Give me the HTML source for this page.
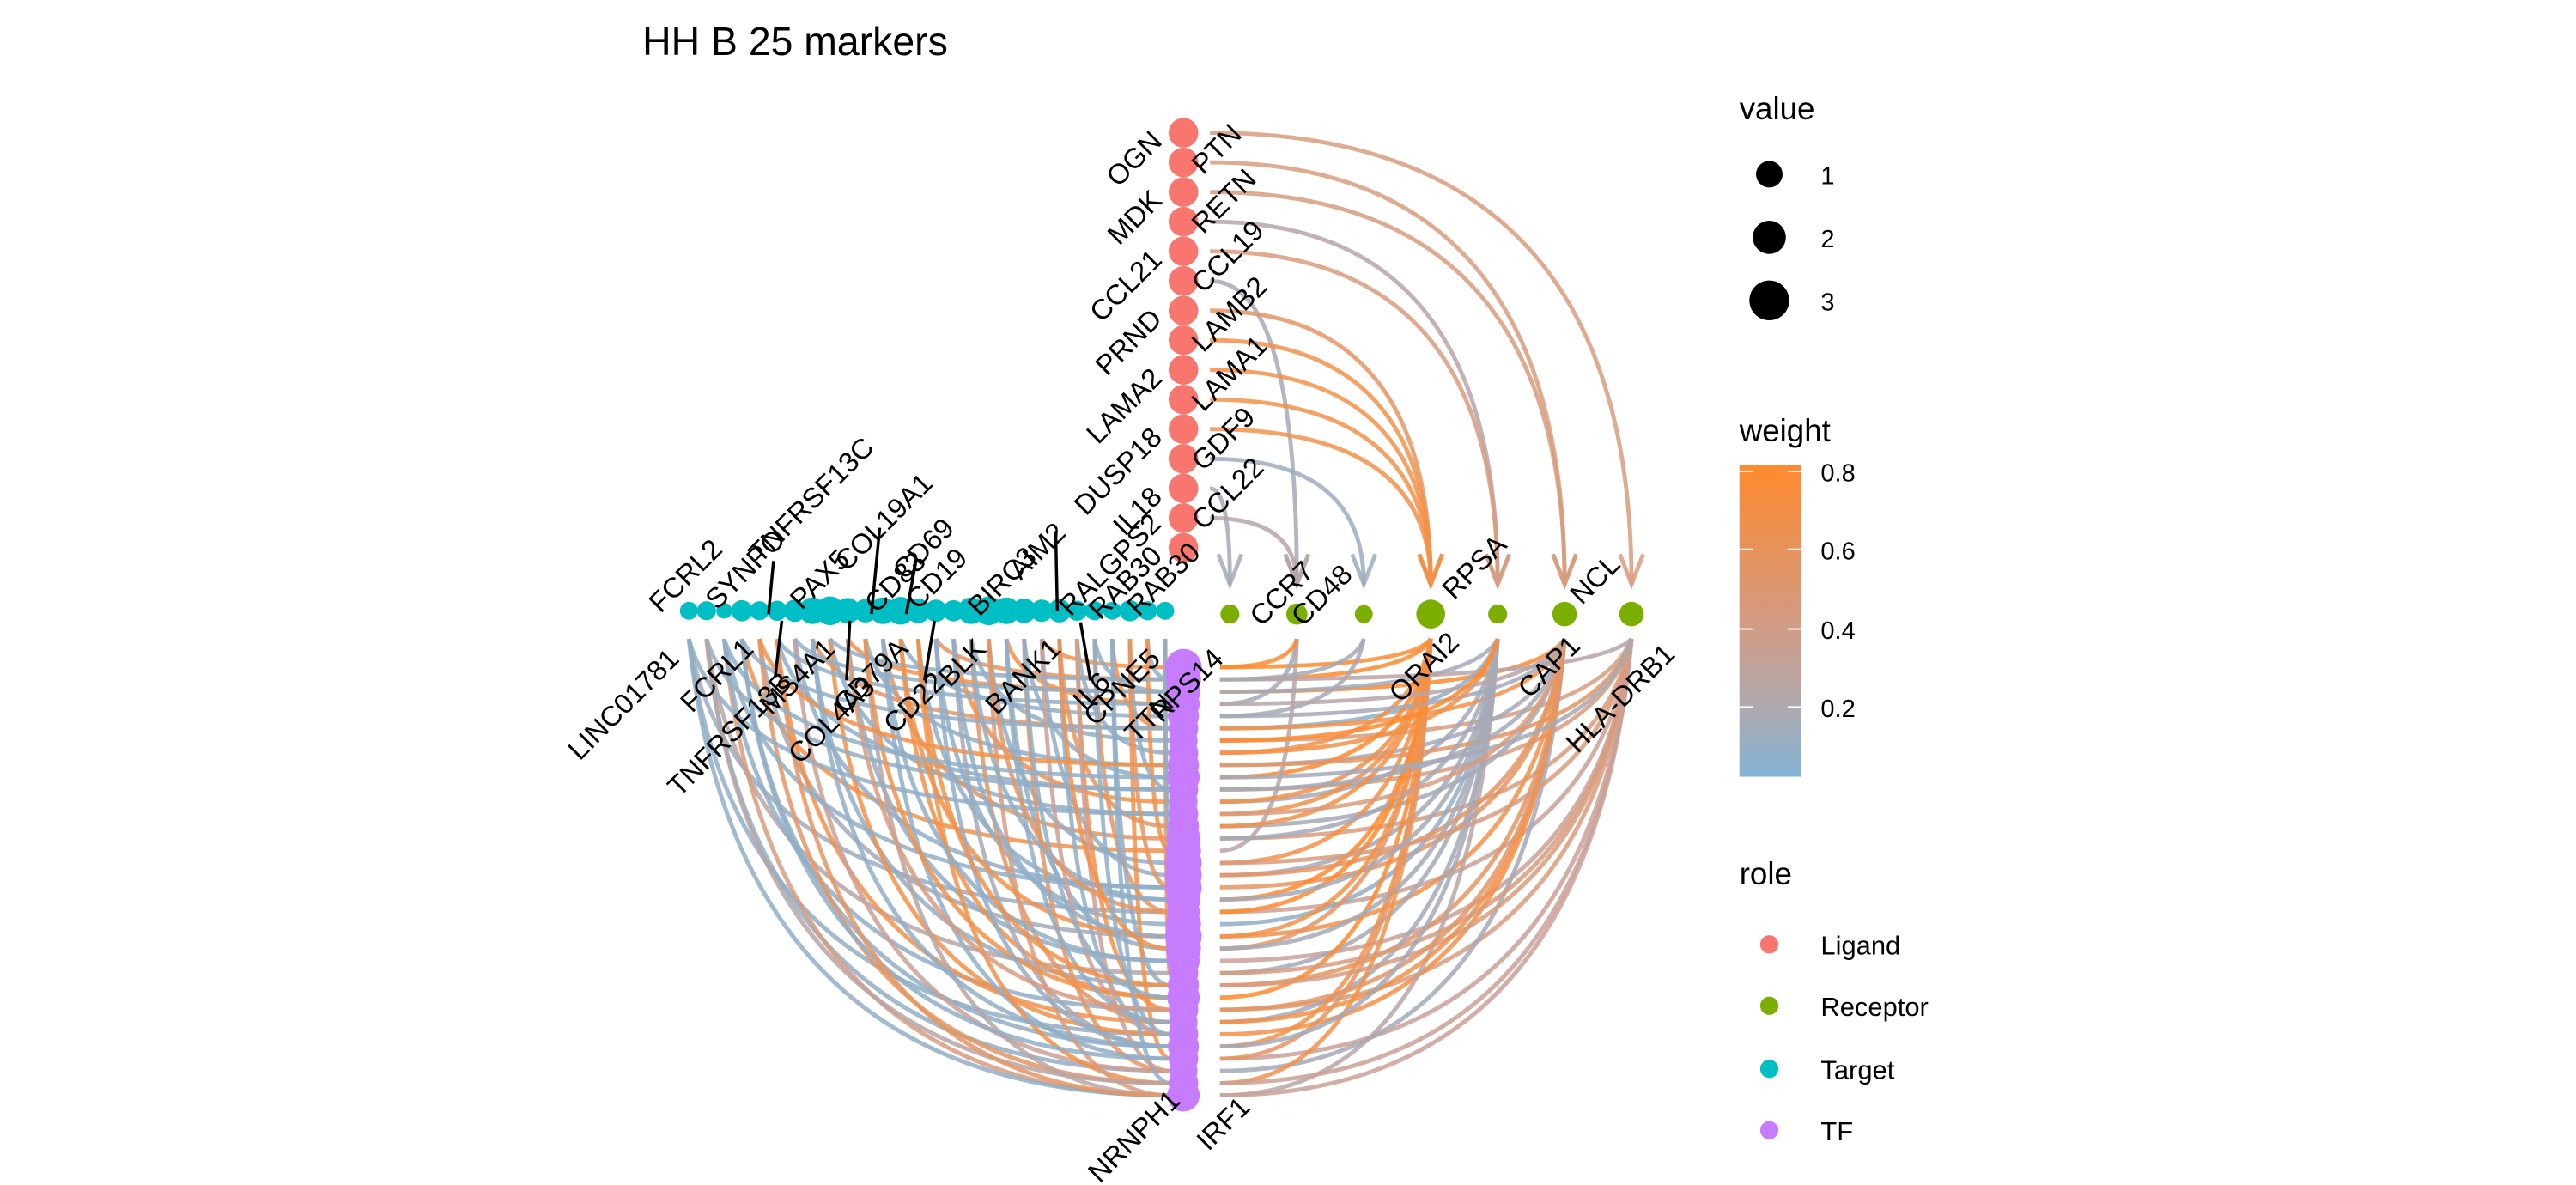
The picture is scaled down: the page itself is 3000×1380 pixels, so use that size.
<!DOCTYPE html>
<html><head><meta charset="utf-8"><style>
html,body{margin:0;padding:0;background:#fff;width:3000px;height:1380px;overflow:hidden;}
svg{display:block;overflow:hidden;font-family:"Liberation Sans",Arial,sans-serif;}
</style></head><body>
<svg id="chart" width="3000" height="1380" viewBox="0 0 1552 714" xmlns="http://www.w3.org/2000/svg">
<rect width="1552" height="714" fill="#fff"/>
<text x="387" y="33" font-size="24" fill="#000">HH B 25 markers</text>
<g id="edges"></g>
<g id="nodes"></g>
<g id="labels"></g>
<g>
<text x="1048" y="72" font-size="19">value</text>
<circle cx="1066" cy="105" r="8"/>
<circle cx="1066" cy="143" r="10"/>
<circle cx="1066" cy="181" r="12"/>
<text x="1097" y="111" font-size="15">1</text>
<text x="1097" y="149" font-size="15">2</text>
<text x="1097" y="187" font-size="15">3</text>
<text x="1048" y="266" font-size="19">weight</text>
<defs><linearGradient id="wg" x1="0" y1="0" x2="0" y2="1">
<stop offset="0" stop-color="#FF8A2E"/><stop offset="0.5" stop-color="#D39A82"/><stop offset="0.78" stop-color="#AFA9B0"/><stop offset="1" stop-color="#82B2D4"/></linearGradient></defs>
<rect x="1048" y="280" width="37" height="188" fill="url(#wg)"/>
<g stroke="#fff" stroke-width="1">
<line x1="1048" y1="284" x2="1056" y2="284"/><line x1="1077" y1="284" x2="1085" y2="284"/>
<line x1="1048" y1="331" x2="1056" y2="331"/><line x1="1077" y1="331" x2="1085" y2="331"/>
<line x1="1048" y1="379" x2="1056" y2="379"/><line x1="1077" y1="379" x2="1085" y2="379"/>
<line x1="1048" y1="426" x2="1056" y2="426"/><line x1="1077" y1="426" x2="1085" y2="426"/>
</g>
<text x="1097" y="290" font-size="15">0.8</text>
<text x="1097" y="337" font-size="15">0.6</text>
<text x="1097" y="385" font-size="15">0.4</text>
<text x="1097" y="432" font-size="15">0.2</text>
<text x="1048" y="533" font-size="19">role</text>
<circle cx="1066" cy="569" r="5.5" fill="#F8766D"/>
<circle cx="1066" cy="606" r="5.5" fill="#7CAE00"/>
<circle cx="1066" cy="644" r="5.5" fill="#00BFC4"/>
<circle cx="1066" cy="681" r="5.5" fill="#C77CFF"/>
<text x="1097" y="575" font-size="16">Ligand</text>
<text x="1097" y="612" font-size="16">Receptor</text>
<text x="1097" y="650" font-size="16">Target</text>
<text x="1097" y="687" font-size="16">TF</text>
</g>
</svg>
<script>
// ---- data ----
const ligands = ["OGN","PTN","MDK","RETN","CCL21","CCL19","PRND","LAMB2","LAMA2","LAMA1","DUSP18","GDF9","IL18","CCL22","RAB30"];
const ligandValues = [2,2,2,2,2,2,2,2,2,2,2,2,2,2,2];
const receptors = ["RPS14","CCR7","CD48","ORAI2","RPSA","CAP1","HLA-DRB1"];
const receptorValues = [1.2,1.6,1,3,1.2,2.2,2.2];
const targets = ["FCRL2","LINC01781","SYNPO","FCRL1","TNFRSF13C","TNFRSF13B","PAX5","MS4A1","COL19A1","CD83","COL4A3","CD69","CD79A","CD19","CD22","BLK","BIRC3","AIM2","BANK1","RALGPS2","IL6","CPNE5","RAB30b","TTNb","T25","T26","T27","T28"];
const targetValues = [1,1.2,0.6,1.6,1.2,1.4,1.8,2.6,3,2.4,2,2.6,2.8,2.2,1.8,1.6,2.6,3,2.6,2.2,1.8,2,1.4,1.2,1,1.6,1.2,1];
const tfCount = 36;
const tfValues = [3,2.8,2.6,2.4,2.2,2,1.8,2,2.2,2.4,2,1.8,2,2.2,2.6,2.8,3,3,3,2.6,2.4,2.8,3,2.8,2.4,2,2.2,2.4,2,1.8,2,2.2,2,1.8,2,2.4];
const leftEdges = [[0,30,.1],[0,20,.15],[1,33,.1],[1,25,.3],[2,35,.5],[2,28,.1],[3,15,.7],[3,31,.1],[4,22,.2],[4,34,.6],[5,10,.1],[5,29,.7],[6,18,.1],[6,33,.4],[7,5,.6],[7,26,.1],[8,12,.1],[8,30,.7],[9,2,.7],[9,24,.1],[10,8,.1],[10,35,.3],[11,14,.6],[11,32,.1],[12,4,.1],[12,27,.7],[13,19,.1],[13,34,.7],[14,1,.6],[14,21,.1],[15,11,.7],[15,31,.2],[16,6,.1],[16,29,.6],[17,16,.1],[17,35,.5],[18,3,.7],[18,23,.1],[19,9,.1],[19,33,.6],[20,0,.7],[20,17,.1],[21,13,.6],[21,30,.1],[22,7,.1],[22,28,.7],[23,2,.1],[23,20,.6],[24,5,.7],[24,26,.1],[25,10,.1],[25,32,.7],[26,1,.1],[26,15,.7],[27,3,.1],[27,25,.6],[1,10,.1],[3,5,.1],[0,12,.1],[2,18,.1],[5,3,.1],[8,1,.1],[12,22,.7],[16,19,.1],[20,30,.4],[24,34,.1],[4,8,.7],[6,2,.1],[10,27,.7],[14,31,.1],[18,29,.1],[22,33,.4],[0,35,.1],[1,34,.3],[3,32,.1],[5,35,.6],[7,31,.1],[9,28,.5],[11,24,.1],[13,26,.7],[15,22,.1],[17,20,.6],[19,27,.1],[21,23,.7],[23,30,.1],[25,18,.6],[27,14,.1],[2,9,.1]];
const rightEdges = [[0,3,.8],[1,3,.8],[2,5,.8],[3,1,.2],[4,2,.2],[5,4,.1],[6,6,.5],[7,3,.7],[8,5,.2],[9,3,.8],[10,6,.5],[11,4,.2],[12,3,.7],[13,5,.2],[14,6,.5],[15,1,.3],[16,3,.7],[17,4,.2],[18,5,.6],[19,3,.8],[20,6,.4],[21,4,.1],[22,5,.7],[23,3,.6],[24,6,.4],[25,4,.2],[26,5,.6],[27,3,.8],[28,6,.5],[29,4,.2],[30,5,.7],[31,3,.7],[32,6,.4],[33,5,.2],[34,3,.7],[35,4,.3],[2,4,.2],[5,5,.7],[8,6,.6],[11,3,.7],[14,4,.2],[17,5,.6],[20,3,.8],[23,4,.2],[26,6,.5],[29,5,.7],[32,3,.6],[35,6,.4],[1,6,.3],[4,5,.2],[7,4,.7],[10,5,.2],[13,3,.7],[16,6,.5],[19,4,.2],[22,3,.7],[25,6,.5],[28,5,.6],[31,4,.2],[34,6,.4],[0,1,.8],[1,2,.2],[3,5,.3],[6,4,.8],[9,6,.2],[12,5,.5]];
const ligandEdges = [[0,6,.5],[1,5,.5],[2,5,.5],[3,4,.3],[4,4,.5],[5,1,.2],[6,3,.6],[7,3,.7],[8,3,.7],[9,3,.7],[10,3,.7],[11,2,.15],[12,0,.2],[13,1,.3]];

// ---- layout helpers ----
const NS="http://www.w3.org/2000/svg";
const ligX=713, ligY0=80, ligY1=330;
const ligY=i=>ligY0+i*(ligY1-ligY0)/(ligands.length-1);
const recY=370, recX0=741, recX1=983;
const recX=i=>recX0+i*(recX1-recX0)/(receptors.length-1);
const tgtY=368, tgtX0=415, tgtX1=702;
const tgtX=i=>tgtX0+i*(tgtX1-tgtX0)/(targets.length-1);
const tfX=713, tfY0=402, tfY1=660;
const tfY=i=>tfY0+i*(tfY1-tfY0)/(tfCount-1);
const rad=v=>5+2.2*v;
function lerp(a,b,t){return a.map((x,k)=>Math.round(x+(b[k]-x)*t));}
function wcol(w){const lo=[130,178,212],mid=[203,160,150],hi=[255,138,46];
  let c; if(w<0.4){c=lerp(lo,mid,Math.max(0,(w-0.02)/0.38));} else {c=lerp(mid,hi,Math.min(1,(w-0.4)/0.4));}
  return "rgb("+c.join(",")+")";}
const E=document.getElementById("edges"),N=document.getElementById("nodes"),L=document.getElementById("labels");
function path(d,col,w){const p=document.createElementNS(NS,"path");p.setAttribute("d",d);p.setAttribute("fill","none");p.setAttribute("stroke",col);p.setAttribute("stroke-width",w);p.setAttribute("stroke-opacity","0.85");return p;}

leftEdges.forEach(e=>{const x1=tgtX(e[0]),y1=385,x2=tfX-8,y2=tfY(e[1]);
  const p=path(`M${x1},${y1} Q${x1+ (x2-x1)*0.1},${y2} ${x2},${y2}`,wcol(e[2]),2.5);
  
  
  E.appendChild(p);});
rightEdges.forEach(e=>{const x1=tfX+22,y1=tfY(e[0]),x2=recX(e[1]),y2=385;
  const p=path(`M${x1},${y1} Q${x2-(x2-x1)*0.1},${y1} ${x2},${y2}`,wcol(e[2]),2.5);
  
  
  E.appendChild(p);});
ligandEdges.forEach(e=>{const x1=ligX+16,y1=ligY(e[0]),x2=recX(e[1]),y2=352;
  const col=wcol(e[2]);
  const p=path(`M${x1},${y1} Q${x2},${y1} ${x2},${y2}`,col,2.5);
  
  
  E.appendChild(p);
  const a=path(`M${x2-7},${y2-18} L${x2},${y2} L${x2+7},${y2-18}`,col,2.5);
  
  
  E.appendChild(a);});

function circ(cx,cy,r,fill,name){const c=document.createElementNS(NS,"circle");c.setAttribute("cx",cx);c.setAttribute("cy",cy);c.setAttribute("r",r);c.setAttribute("fill",fill);
  
  
  N.appendChild(c);}
ligands.forEach((n,i)=>circ(ligX,ligY(i),rad(ligandValues[i])*0.95,"#F8766D","ligand-node"));
receptors.forEach((n,i)=>circ(recX(i),recY,rad(receptorValues[i])*0.75,"#7CAE00","receptor-node"));
targets.forEach((n,i)=>circ(tgtX(i),tgtY,rad(targetValues[i])*0.75,"#00BFC4","target-node"));
for(let i=0;i<tfCount;i++){circ(tfX,tfY(i),rad(tfValues[i])*0.95,"#C77CFF","tf-node");}

function lab(txt,x,y,anchor){const t=document.createElementNS(NS,"text");t.textContent=txt;t.setAttribute("x",x);t.setAttribute("y",y);t.setAttribute("font-size","17");t.setAttribute("text-anchor",anchor);t.setAttribute("transform",`rotate(-45 ${x} ${y})`);
  
  
  L.appendChild(t);}
ligands.forEach((n,i)=>{ if(i%2==0) lab(n,ligX-12,ligY(i)+6,"end"); else lab(n,ligX+12,ligY(i)+8,"start");});
const recLab=[["RPS14",738,398,"end"],["CCR7",760,378,"start"],["CD48",785,378,"start"],["ORAI2",880,388,"end"],["RPSA",876,362,"start"],["CAP1",953,390,"end"],["NCL",953,365,"start"],["HLA-DRB1",1010,395,"end"]];
recLab.forEach(r=>lab(r[0],r[1],r[2],r[3]));
const tgtLab=[["FCRL2",398,370,"start"],["LINC01781",410,398,"end"],["SYNPO",432,368,"start"],["TNFRSF13C",458,340,"start"],["FCRL1",455,392,"end"],["TNFRSF13B",478,412,"end"],["PAX5",483,368,"start"],["MS4A1",504,392,"end"],["COL19A1",510,345,"start"],["CD83",528,370,"start"],["CD69",545,350,"start"],["COL4A3",528,415,"end"],["CD19",553,368,"start"],["CD79A",548,392,"end"],["CD22",570,412,"end"],["BLK",595,392,"end"],["BIRC3",590,372,"start"],["AIM2",615,350,"start"],["BANK1",640,392,"end"],["RALGPS2",645,372,"start"],["IL6",670,412,"end"],["RAB30",686,372,"start"],["CPNE5",700,398,"end"],["TTN",708,425,"end"],["NRNPH1",712,664,"end"],["IRF1",728,694,"start"]];
tgtLab.forEach(r=>lab(r[0],r[1],r[2],r[3]));
const leaders=[[466,338,463,370],[471,374,467,408],[530,318,525,370],[512,374,510,410],[552,337,546,370],[563,374,557,410],[636,320,637,368],[651,375,657,410]];
leaders.forEach(l=>{const ln=document.createElementNS(NS,"line");ln.setAttribute("x1",l[0]);ln.setAttribute("y1",l[1]);ln.setAttribute("x2",l[2]);ln.setAttribute("y2",l[3]);ln.setAttribute("stroke","#000");ln.setAttribute("stroke-width","1.8");
  
  
  L.appendChild(ln);});
</script>
</body></html>
